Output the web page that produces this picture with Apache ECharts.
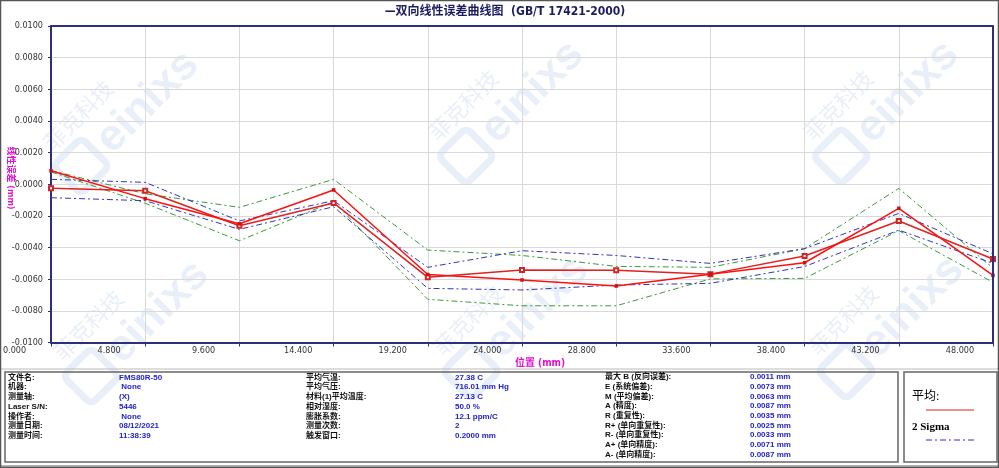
<!DOCTYPE html>
<html><head><meta charset="utf-8">
<script src="https://cdn.jsdelivr.net/npm/echarts@6/dist/echarts.min.js"></script>
<style>html,body{margin:0;padding:0;background:#fff}#c{width:999px;height:468px}</style>
</head><body><div id="c"></div>
<script>
// ---- data ----
const positions = [0, 5, 10, 15, 20, 25, 30, 35, 40, 45, 50];
const xTickLabels = ['0.000','4.800','9.600','14.400','19.200','24.000','28.800','33.600','38.400','43.200','48.000'];
const avgForward = [0.00085, -0.00091, -0.00250, -0.00036, -0.00570, -0.00605, -0.00643, -0.00568, -0.00496, -0.00152, -0.00576];
const avgReverse = [-0.00026, -0.00041, -0.00262, -0.00118, -0.00588, -0.00542, -0.00544, -0.00568, -0.00453, -0.00232, -0.00472];
const greenUpper = [0.00087, -0.00060, -0.00146, 0.00031, -0.00416, -0.00450, -0.00519, -0.00525, -0.00407, -0.00026, -0.00530];
const greenLower = [0.00078, -0.00120, -0.00357, -0.00110, -0.00727, -0.00768, -0.00768, -0.00598, -0.00595, -0.00293, -0.00620];
const blueUpper = [0.00031, 0.00012, -0.00232, -0.00104, -0.00525, -0.00420, -0.00450, -0.00500, -0.00407, -0.00184, -0.00440];
const blueLower = [-0.00085, -0.00104, -0.00285, -0.00142, -0.00658, -0.00668, -0.00637, -0.00626, -0.00520, -0.00290, -0.00500];

const titleText = '—双向线性误差曲线图  (GB/T 17421-2000)';
const xName = '位置 (mm)';
const yName = '线性误差 (mm)';

const infoLabels1 = ['文件名:','机器:','测量轴:','Laser S/N:','操作者:','测量日期:','测量时间:'];
const infoValues1 = ['FMS80R-50',' None','(X)','5446',' None','08/12/2021','11:38:39'];
const infoLabels2 = ['平均气温:','平均气压:','材料(1)平均温度:','相对湿度:','膨胀系数:','测量次数:','触发窗口:'];
const infoValues2 = ['27.38 C','716.01 mm Hg','27.13 C','50.0 %','12.1 ppm/C','2','0.2000 mm'];
const statLabels = ['最大 B (反向误差):','E (系统偏差):','M (平均偏差):','A (精度):','R (重复性):','R+ (单向重复性):','R- (单向重复性):','A+ (单向精度):','A- (单向精度):'];
const statValues = ['0.0011 mm','0.0073 mm','0.0063 mm','0.0087 mm','0.0035 mm','0.0025 mm','0.0033 mm','0.0071 mm','0.0087 mm'];
const legendLabels = ['平均:', '2 Sigma'];

// ---- helpers ----
const pair = arr => positions.map((p, i) => [p, arr[i]]);
const NARROW = "'Liberation Sans Narrow','DejaVu Sans Condensed','Liberation Sans',sans-serif";
const SMALL = "'Liberation Sans','Noto Sans CJK SC',sans-serif";
const NAVY = '#2e2e7e';
const DASHDOT = [6, 3, 2, 3];
const WM = '#e9eff8';

const graphics = [];
// watermark
const wmCenters = [[125, 125], [510, 115], [885, 115], [135, 335], [515, 330], [890, 330]];
wmCenters.forEach(c => {
  graphics.push({
    type: 'group', x: c[0], y: c[1], rotation: Math.PI / 4, z: -10, silent: true,
    children: [
      { type: 'rect', shape: { x: -80, y: -22, width: 40, height: 40, r: 6 }, style: { fill: 'none', stroke: WM, lineWidth: 7 } },
      { type: 'text', x: -30, y: 0, style: { text: 'einixs', fill: WM, fontSize: 44, fontWeight: 'bold', fontFamily: 'Arial, Liberation Sans', textAlign: 'left', textVerticalAlign: 'middle' } },
      { type: 'text', x: -70, y: -40, style: { text: '菲克科技', fill: WM, fontSize: 22, fontFamily: 'Noto Sans CJK SC', textAlign: 'left', textVerticalAlign: 'middle' } }
    ]
  });
});
// title
graphics.push({ type: 'text', x: 505, y: 12, style: { text: titleText, fill: '#1c1c60', fontSize: 12, fontWeight: 'bold', fontFamily: NARROW + ",'Noto Sans CJK SC'", textAlign: 'center', textVerticalAlign: 'middle' } });
// axis names
graphics.push({ type: 'text', x: 540, y: 363, style: { text: xName, fill: '#e010d0', fontSize: 10, fontWeight: 'bold', fontFamily: NARROW + ",'Noto Sans CJK SC'", textAlign: 'center', textVerticalAlign: 'middle' } });
graphics.push({ type: 'text', x: 10, y: 178, rotation: -Math.PI / 2, style: { text: yName, fill: '#e010d0', fontSize: 9, fontWeight: 'bold', fontFamily: NARROW + ",'Noto Sans CJK SC'", textAlign: 'center', textVerticalAlign: 'middle' } });
// frames
graphics.push({ type: 'rect', shape: { x: 0.5, y: 0.5, width: 998, height: 467 }, style: { fill: 'none', stroke: '#555', lineWidth: 1.5 }, z: 20 });
graphics.push({ type: 'line', shape: { x1: 0, y1: 369, x2: 999, y2: 369 }, style: { stroke: '#bbb', lineWidth: 1 } });
graphics.push({ type: 'rect', shape: { x: 5, y: 372, width: 893, height: 90 }, style: { fill: 'none', stroke: '#666', lineWidth: 1.5 } });
graphics.push({ type: 'rect', shape: { x: 904, y: 372, width: 93, height: 90 }, style: { fill: '#fff', stroke: '#666', lineWidth: 1.5 } });
graphics.push({ type: 'line', shape: { x1: 0, y1: 466, x2: 999, y2: 466 }, style: { stroke: '#999', lineWidth: 1.5 } });
// table text
function addCol(labels, values, lx, vx, y0, dy) {
  labels.forEach((t, i) => {
    graphics.push({ type: 'text', x: lx, y: y0 + i * dy, style: { text: t, fill: '#111', fontSize: 8, fontWeight: 'bold', fontFamily: SMALL, textAlign: 'left', textVerticalAlign: 'middle' } });
  });
  values.forEach((t, i) => {
    graphics.push({ type: 'text', x: vx, y: y0 + i * dy, style: { text: t, fill: '#2222cc', fontSize: 8, fontWeight: 'bold', fontFamily: SMALL, textAlign: 'left', textVerticalAlign: 'middle' } });
  });
}
addCol(infoLabels1, infoValues1, 8, 119, 377.5, 9.75);
addCol(infoLabels2, infoValues2, 306, 455, 377.5, 9.75);
addCol(statLabels, statValues, 605, 750, 377, 9.7);
// legend box
graphics.push({ type: 'text', x: 912, y: 397, style: { text: legendLabels[0], fill: '#000', fontSize: 12, fontFamily: "'Liberation Serif','Noto Sans CJK SC',serif", textAlign: 'left', textVerticalAlign: 'middle' } });
graphics.push({ type: 'line', shape: { x1: 926, y1: 410, x2: 974, y2: 410 }, style: { stroke: '#dd2222', lineWidth: 1.2 } });
graphics.push({ type: 'text', x: 912, y: 427, style: { text: legendLabels[1], fill: '#000', fontSize: 11, fontWeight: 'bold', fontFamily: "'Liberation Serif',serif", textAlign: 'left', textVerticalAlign: 'middle' } });
graphics.push({ type: 'line', shape: { x1: 926, y1: 440, x2: 975, y2: 440 }, style: { stroke: '#3030c0', lineWidth: 1, lineDash: DASHDOT } });

const bandSeries = (name, data, color) => ({
  name, type: 'line', xAxisIndex: 0, yAxisIndex: 0, data: pair(data), symbol: 'none', z: 3,
  lineStyle: { color, width: 1, type: DASHDOT }, silent: true, animation: false
});

const option = {
  animation: false,
  backgroundColor: '#fff',
  grid: [
    { left: 51, right: 6, top: 26, bottom: 125.5 },
    { left: 10, right: 39, top: 26, bottom: 125.5 }
  ],
  xAxis: [
    { gridIndex: 0, type: 'value', min: 0, max: 50, interval: 5, position: 'bottom',
      axisLine: { onZero: false, lineStyle: { color: NAVY, width: 2 } },
      axisTick: { show: true, length: 4, lineStyle: { color: NAVY } },
      axisLabel: { show: false },
      splitLine: { show: true, lineStyle: { color: '#d9d9d9', width: 1 } } },
    { gridIndex: 0, type: 'value', position: 'top', min: 0, max: 50, z: 5,
      axisLine: { show: true, onZero: false, lineStyle: { color: NAVY, width: 2 } },
      axisTick: { show: false }, axisLabel: { show: false }, splitLine: { show: false } },
    { gridIndex: 1, type: 'category', data: xTickLabels, boundaryGap: false, position: 'bottom',
      axisLine: { show: false, onZero: false }, axisTick: { show: false }, splitLine: { show: false },
      axisLabel: { show: true, margin: 4, fontSize: 9, color: '#333', fontFamily: NARROW, interval: 0 } }
  ],
  yAxis: [
    { gridIndex: 0, type: 'value', min: -0.01, max: 0.01, interval: 0.002, position: 'left',
      axisLine: { show: true, onZero: false, lineStyle: { color: NAVY, width: 2 } },
      axisTick: { show: true, length: 3, lineStyle: { color: NAVY } },
      axisLabel: { margin: 8, fontSize: 9, color: '#333', fontFamily: NARROW,
        formatter: v => Math.abs(v) < 1e-9 ? '0.0000' : v.toFixed(4) },
      splitLine: { show: true, lineStyle: { color: '#d9d9d9', width: 1 } } },
    { gridIndex: 0, type: 'value', position: 'right', min: -0.01, max: 0.01, z: 5,
      axisLine: { show: true, onZero: false, lineStyle: { color: NAVY, width: 2 } },
      axisTick: { show: false }, axisLabel: { show: false }, splitLine: { show: false } },
    { gridIndex: 1, type: 'value', show: false }
  ],
  graphic: graphics,
  series: [
    bandSeries('G+', greenUpper, '#3a9a3a'),
    bandSeries('G-', greenLower, '#3a9a3a'),
    bandSeries('B+', blueUpper, '#3535b5'),
    bandSeries('B-', blueLower, '#3535b5'),
    { name: '平均-反向', type: 'line', data: pair(avgReverse), symbol: 'emptyRect', symbolSize: 4, z: 4,
      itemStyle: { color: '#d02525', borderWidth: 1 }, lineStyle: { color: '#e02222', width: 1.5 } },
    { name: '平均-正向', type: 'line', data: pair(avgForward), symbol: 'rect', symbolSize: 3.5, z: 4,
      itemStyle: { color: '#d01010' }, lineStyle: { color: '#ff1010', width: 1.5 } }
  ]
};
const chart = echarts.init(document.getElementById('c'), null, { renderer: 'canvas' });
chart.setOption(option);
</script></body></html>
